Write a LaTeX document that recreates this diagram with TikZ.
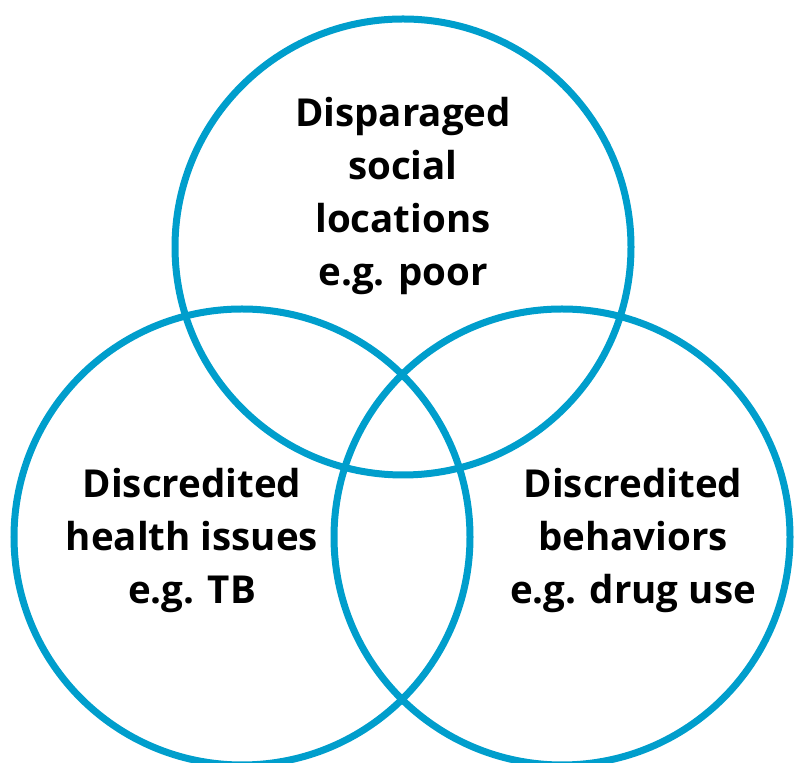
\documentclass[tikz,border=0pt]{standalone}
\usepackage{fontspec}
\setmainfont{Open Sans}
\usepackage{xcolor}
\definecolor{vennblue}{RGB}{0,158,204}

\begin{document}
\begin{tikzpicture}[
    x=1pt, y=1pt,
    ring/.style={draw=vennblue, line width=7pt, circle, minimum size=456pt, inner sep=0pt},
    label/.style={align=center, font=\fontsize{38.5}{53}\selectfont\bfseries, text=black}
]
    \useasboundingbox (0,0) rectangle (794,762);

    % Circles
    \node[ring] (social) at (403,515) {};
    \node[ring] (health) at (242,225) {};
    \node[ring] (behav)  at (562,225) {};

    % Labels
    \node[label] (sociallbl) at (403,566) {Disparaged\\social\\locations\\e.g. poor};
    \node[label] (healthlbl) at (192,221) {Discredited\\health issues\\e.g. TB};
    \node[label] (behavlbl)  at (633,221) {Discredited\\behaviors\\e.g. drug use};
\end{tikzpicture}
\end{document}
